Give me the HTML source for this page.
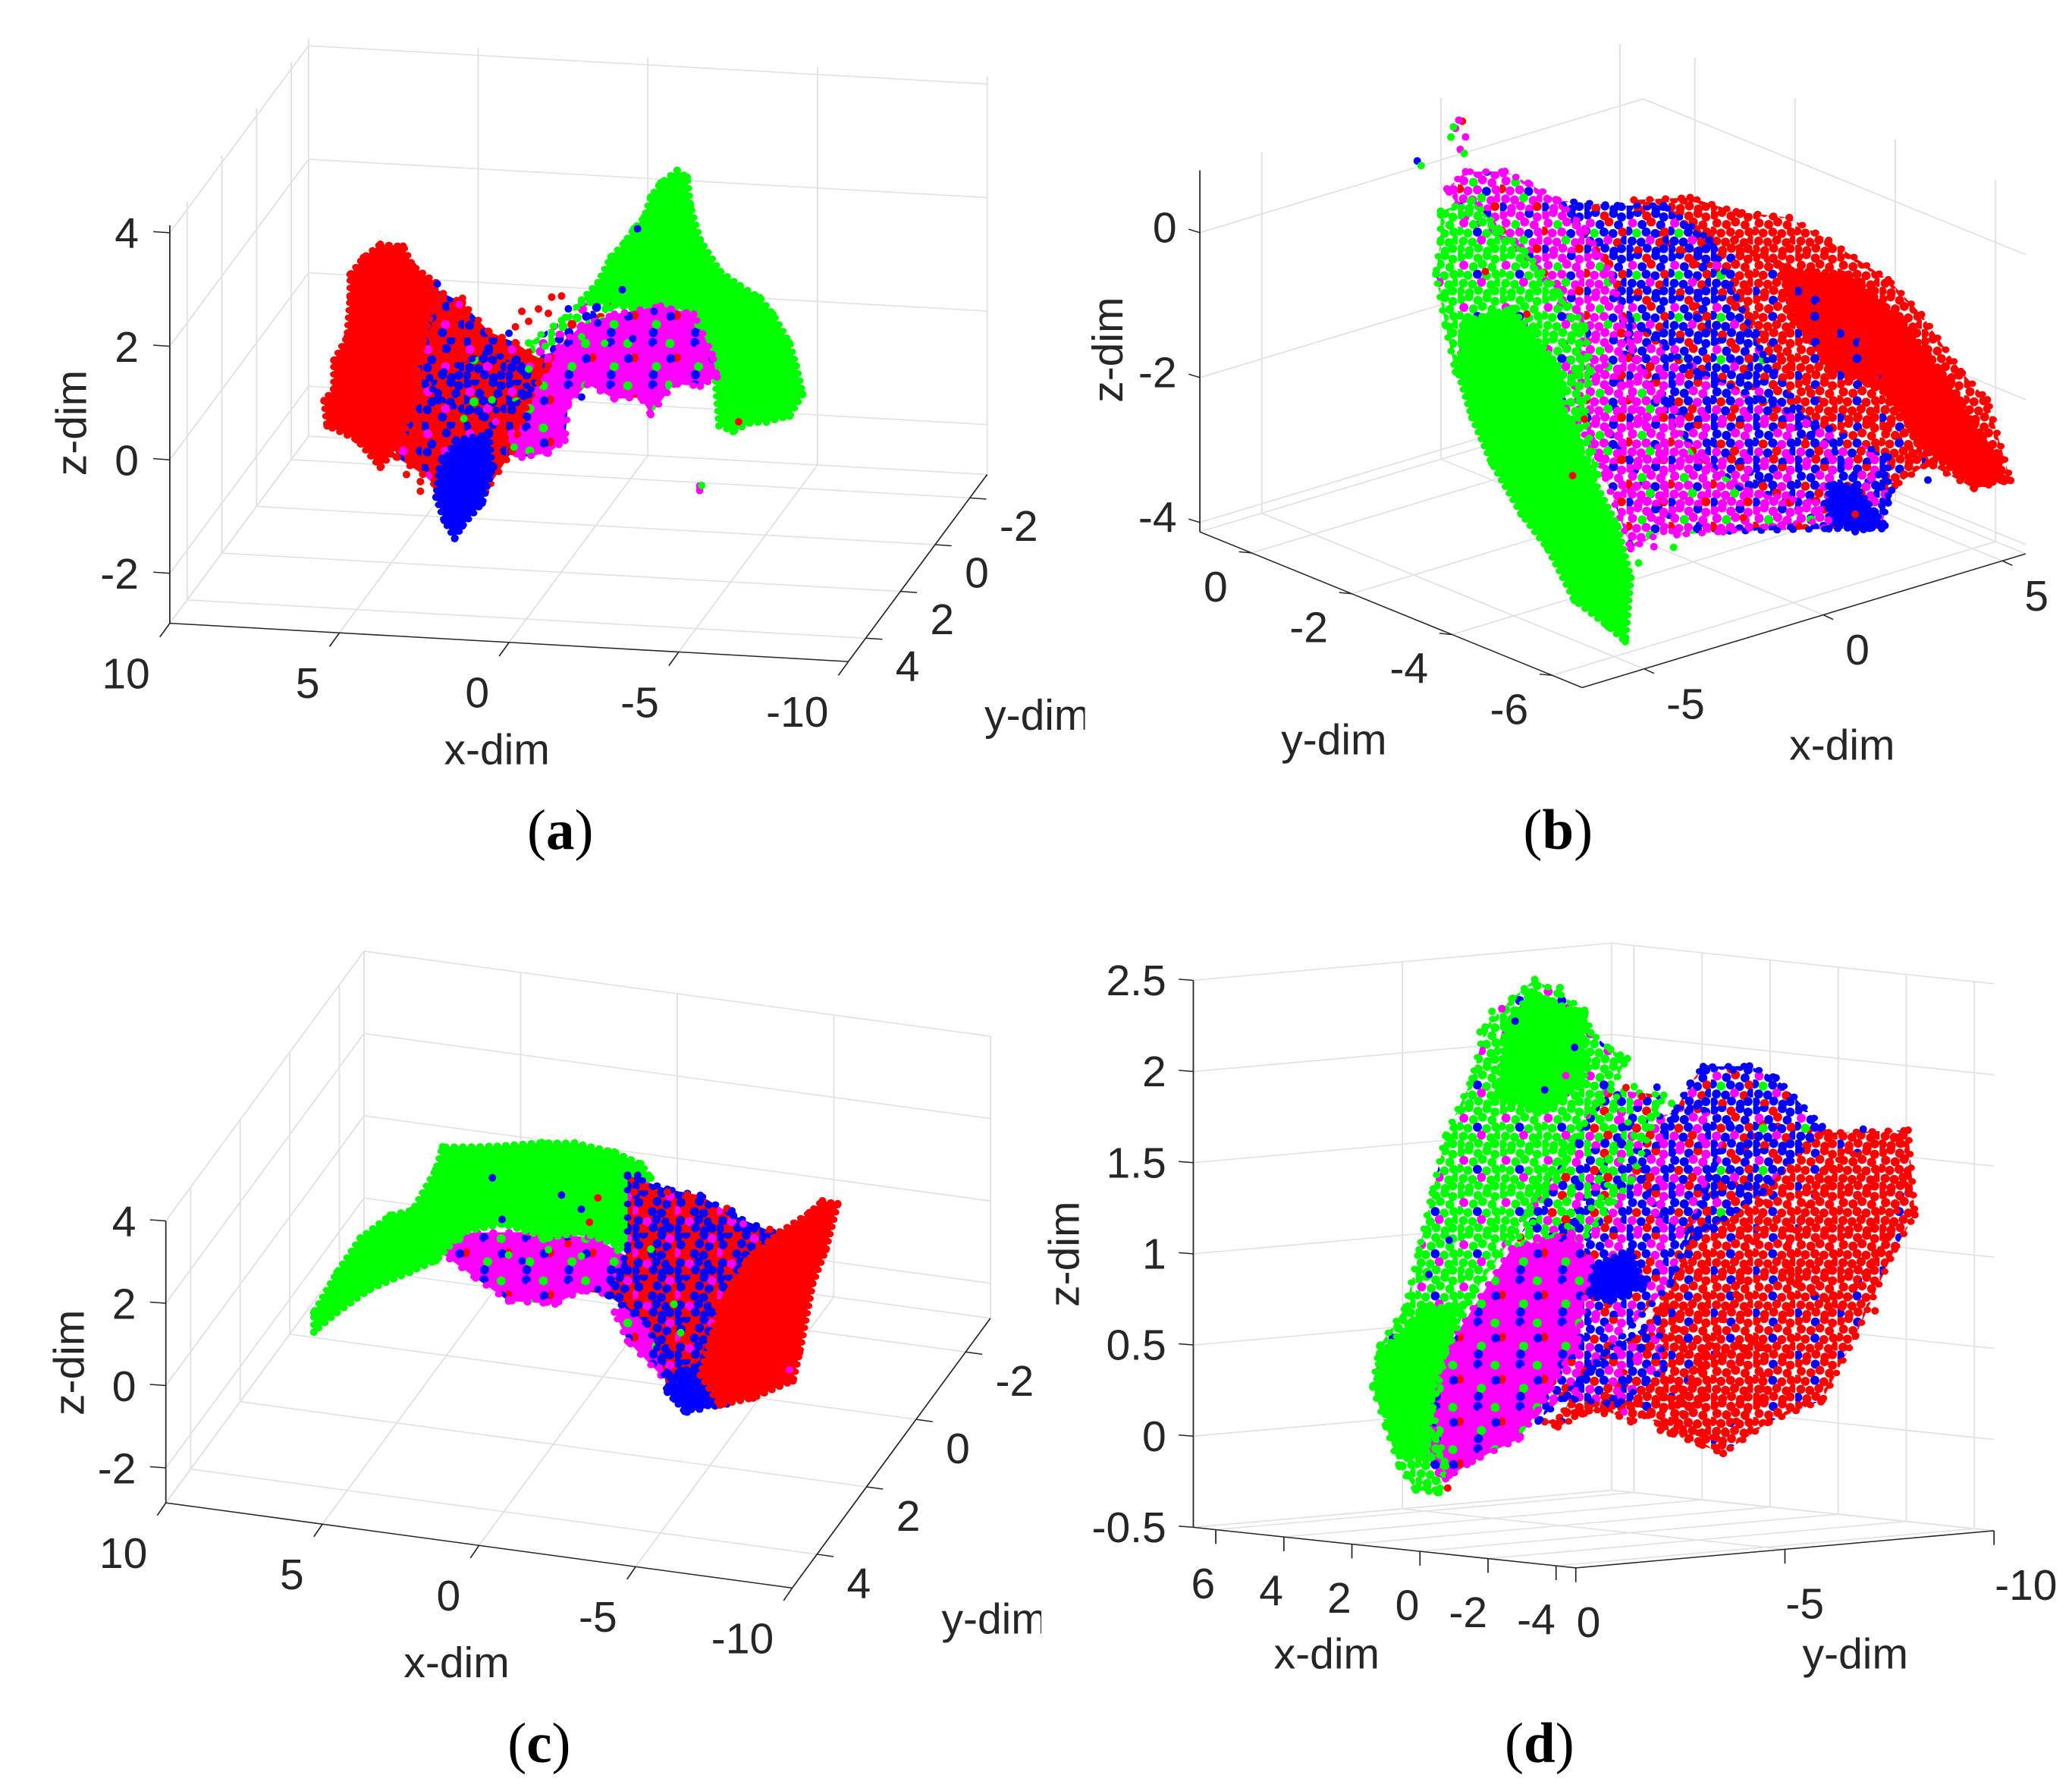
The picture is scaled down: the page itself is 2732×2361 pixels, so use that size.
<!DOCTYPE html>
<html lang="en">
<head>
<meta charset="utf-8">
<title>3D scatter views (a)-(d)</title>
<style>
html,body{margin:0;padding:0;background:#fff;}
svg{display:block;}
text{font-family:"Liberation Sans",sans-serif;fill:#262626;}
text.caption{font-family:"Liberation Serif",serif;fill:#000;}
</style>
</head>
<body>
<svg id="figure" width="2732" height="2361" viewBox="0 0 2732 2361">
<defs id="defs">
<clipPath id="clip-a"><rect x="0" y="0" width="1642" height="1600"></rect></clipPath>
<clipPath id="clip-c"><rect x="0" y="0" width="1576" height="1600"></rect></clipPath>
</defs>
<rect x="0" y="0" width="2732" height="2361" fill="#ffffff"></rect>
</svg>
<script>
// ---------- Values: [x, z] at each panel's reading plane y ----------
const panelAPlaneY = 0;
const panelAGreenRegion = [[-2.40,3.46],[-1.91,3.22],[-1.62,2.96],[-1.43,2.60],[-1.13,2.39],[-.84,2.13],[-.45,1.87],[-.06,1.40],[.42,1.08],[-1.13,.98],[-2.69,1.04],[-3.47,.25],[-3.63,-1.00],[-4.05,-1.09],[-4.54,-.92],[-5.03,-.89],[-5.71,-.76],[-6.10,-.36],[-5.91,.13],[-5.71,.53],[-5.22,1.02],[-4.83,1.30],[-4.25,1.49],[-3.67,1.72],[-3.08,2.25],[-2.79,2.84],[-2.69,3.35]];
const panelAMixRegion = [[1.98,.27],[1.01,.70],[.42,1.03],[-.55,1.06],[.03,.59],[1.01,.10],[1.59,-.22]];
const panelAMagentaRegion = [[1.40,.04],[.42,.63],[-.55,.86],[-1.91,1.05],[-2.89,.94],[-3.43,.25],[-3.57,-.14],[-3.08,-.32],[-2.30,-.31],[-1.62,-.87],[-1.33,-.58],[-.55,-.63],[.23,-.40],[.81,-.75],[.91,-1.41],[1.40,-1.65],[2.18,-1.75],[2.76,-1.57],[2.37,-.96],[1.79,-.53]];
const panelARedBlueRegion = [[4.90,1.17],[3.93,.91],[3.15,.43],[2.37,.26],[1.40,-.11],[1.98,-.74],[2.47,-1.66],[3.25,-2.39],[4.71,-2.34],[5.10,-2.15],[5.88,-1.87],[6.07,-.88],[5.49,.15]];
const panelABlueBand = [[4.90,-.44],[3.15,.08],[2.18,-.14],[1.98,-.64],[3.35,-1.08],[4.71,-.83]];
const panelABlueTip = [[4.12,-1.51],[3.15,-1.38],[3.05,-1.98],[3.35,-2.60],[3.93,-3.02],[4.16,-3.25],[4.47,-2.94],[4.71,-2.54],[4.61,-2.04]];
const panelARedRegion = [[6.35,1.86],[5.68,1.85],[5.39,1.51],[4.71,1.24],[4.81,.78],[5.10,.16],[5.39,-.65],[5.68,-1.57],[6.35,-2.07],[7.04,-1.61],[7.92,-1.39],[8.01,-.95],[7.72,-.73],[7.72,-.23],[7.33,.19],[7.24,.90],[7.24,1.30],[6.85,1.61]];
const panelABluePoints = [[4.67,1.22],[2.56,.42],[.81,.91],[-.06,.69],[-1.23,2.39],[-.78,1.30],[-1.72,.95],[-1.09,.45],[.42,-.63]];
const panelARedPoints = [[3.93,.99],[4.22,.85],[1.30,1.10],[1.01,1.13],[1.69,.88],[2.18,.82],[1.98,.65],[2.37,.54],[1.40,.81],[5.17,-2.45],[5.17,-2.28],[5.58,-2.17],[-4.21,-.91]];
const panelAMagentaPoints = [[-3.06,-2.08],[-3.06,-2.16],[4.03,.88],[2.95,-1.15],[2.47,-1.46],[1.01,-1.05]];
const panelAGreenPoints = [[-3.12,-2.07],[.42,.43],[-.26,.34],[-2.15,-.32],[2.41,-1.58],[3.89,-1.13],[3.06,-.77],[1.98,-.19],[1.49,.23]];

const panelBPlaneY = -2;
const panelBRedRegion = [[1.15,.13],[2.72,-.07],[4.01,-.46],[5.49,-.76],[6.59,-1.24],[8.25,-2.03],[9.18,-2.65],[10.28,-3.60],[11.02,-4.10],[11.67,-5.31],[10.65,-5.27],[9.36,-4.73],[8.25,-4.09],[6.59,-3.60],[5.49,-2.81],[4.38,-2.01],[3.46,-1.16],[1.98,-.55]];
const panelBRedCore = [[5.30,-1.44],[7.15,-1.79],[8.62,-2.64],[9.73,-3.52],[10.84,-4.55],[11.58,-5.29],[10.65,-5.23],[9.36,-4.57],[8.25,-3.61],[6.59,-2.97],[5.67,-2.20]];
const panelBRedBlueBand = [[2.90,-.53],[6.59,-1.87],[8.44,-3.72],[9.36,-4.73],[8.44,-4.90],[6.59,-4.23],[4.75,-3.17],[2.90,-1.71]];
const panelBBlueRegion = [[-.97,.44],[.69,.12],[1.98,-.07],[3.27,-.74],[4.01,-1.64],[4.75,-2.54],[6.04,-3.68],[7.33,-4.58],[8.25,-4.95],[8.07,-5.44],[6.59,-5.22],[5.49,-4.70],[3.83,-3.82],[2.35,-2.97],[1.06,-1.99],[.69,-1.14],[-.23,-.14]];
const panelBLowerMix = [[1.06,-1.51],[2.90,-2.50],[4.75,-3.17],[6.59,-3.84],[8.25,-4.48],[8.25,-5.11],[6.59,-5.22],[3.64,-4.82],[1.98,-4.33],[.51,-3.01]];
const panelBBlueTip = [[6.59,-4.63],[7.33,-4.74],[8.16,-5.41],[7.33,-5.37],[6.59,-5.10]];
const panelBMagentaRegion = [[-4.07,1.06],[-3.55,1.22],[-2.45,1.06],[-1.80,.80],[-.97,.44],[-.23,-.06],[.51,-.80],[1.06,-1.83],[1.80,-2.73],[2.90,-3.68],[4.38,-4.38],[6.23,-4.81],[6.59,-5.10],[5.30,-4.97],[3.64,-4.82],[2.35,-4.67],[1.80,-4.39],[1.06,-3.88],[.14,-3.27],[-.42,-2.71],[-.23,-1.64],[-1.52,-.42],[-2.63,.22],[-3.55,.59]];
const panelBGreenMagentaBand = [[-.79,-1.56],[.69,-2.17],[1.98,-3.55],[1.98,-4.57],[1.06,-4.67],[.32,-3.53],[-.42,-2.40]];
const panelBGreenRegion = [[-4.25,.78],[-3.37,.80],[-2.63,.30],[-1.89,-.13],[-.97,-.82],[-.23,-1.40],[-.05,-2.06],[-.23,-2.66],[.14,-3.51],[-.79,-3.13],[-2.63,-2.07],[-3.83,-1.50],[-4.11,-.82],[-4.38,-.07],[-4.25,.38]];
const panelBGreenCore = [[-3.55,-.83],[-2.26,-.86],[-.97,-1.84],[-.79,-2.50],[-.05,-3.48],[.69,-4.30],[1.06,-5.07],[.91,-5.93],[.41,-5.64],[-.51,-5.15],[-1.25,-4.33],[-1.99,-3.74],[-2.82,-2.91],[-3.37,-2.20],[-3.77,-1.50]];
const panelBBluePoints = [[-4.90,1.57],[9.36,-4.96],[8.35,-4.95],[7.98,-4.68]];
const panelBRedPoints = [[-3.64,1.93],[-1.84,-1.00],[-.56,-3.42],[-.23,-2.69],[-3.00,-.24],[7.88,-4.23],[8.81,-4.56],[5.76,-5.06],[7.33,-5.13],[4.20,-4.71]];
const panelBMagentaPoints = [[-3.74,1.96],[-3.83,1.86],[-3.55,1.70],[-3.70,1.55],[1.71,-4.74]];
const panelBGreenPoints = [[-3.89,1.89],[-3.96,1.76],[-3.59,1.48],[-4.79,1.49],[2.26,-4.83],[1.28,-4.90]];

const panelCPlaneY = 0;
const panelCMagentaRegion = [[5.33,-.30],[4.48,.19],[2.37,.42],[.26,.50],[-1.00,.07],[-.37,-.83],[.69,-.83],[1.53,-1.24],[3.01,-1.32],[4.06,-.87]];
const panelCMagentaLobe = [[-.37,-1.24],[-1.00,-.76],[-2.27,-1.47],[-2.48,-2.84],[-1.85,-2.62],[-.79,-1.90]];
const panelCGreenRegion = [[9.23,-2.72],[9.23,-2.24],[8.49,-1.19],[7.75,-.28],[6.80,.37],[6.07,.58],[5.33,1.64],[5.12,2.21],[3.64,2.37],[1.95,2.64],[.90,2.74],[-.37,2.65],[-1.21,2.45],[-1.53,2.14],[-1.00,1.88],[-.79,1.02],[-.79,.32],[.69,.59],[1.74,.34],[3.22,.53],[4.48,.19],[5.33,-.58],[6.17,-.95],[7.44,-1.50],[8.49,-2.17]];
const panelCMixRegion = [[-.79,2.13],[-2.06,1.92],[-3.11,1.88],[-4.17,1.50],[-5.43,1.22],[-5.64,.55],[-3.96,-3.10],[-2.69,-3.43],[-2.06,-3.01],[-1.85,-2.21],[-1.42,-1.42],[-.16,-.85],[-.79,.32]];
const panelCBlueRegion = [[-2.16,-2.59],[-3.11,-2.22],[-3.74,-2.71],[-3.64,-3.13],[-2.61,-3.42],[-2.06,-3.01]];
const panelCRedRegion = [[-7.01,2.15],[-7.50,2.13],[-7.12,.98],[-6.70,.11],[-6.28,-1.61],[-6.07,-2.32],[-4.80,-2.87],[-3.74,-3.15],[-3.11,-2.49],[-3.74,-.76],[-4.59,.44],[-5.64,1.25],[-6.59,1.82]];
const panelCRedPoints = [[-3.96,1.65],[-5.33,1.28],[-2.69,1.85],[-2.06,1.85],[-1.00,1.74],[.43,.86],[.16,1.48],[1.11,.27]];
const panelCBluePoints = [[3.53,1.62],[1.32,1.43],[3.22,.64],[.69,1.15],[-1.11,2.16],[-4.12,1.61],[-4.48,1.24],[2.58,-.30],[.16,-.74]];
const panelCGreenPoints = [[3.01,-.20],[1.74,.06],[.69,.01],[-.47,.27],[-2.27,-.85],[-2.48,-1.52],[-1.53,.41]];
const panelCMagentaPoints = [[3.01,-1.29],[1.78,-1.22],[-5.96,-2.06],[-4.48,1.33]];

const panelDPlaneY = -5;
const panelDRedRegion = [[2.48,.06],[.34,.23],[-1.02,.73],[-1.99,1.28],[-3.93,1.82],[-5.87,1.81],[-8.20,1.87],[-8.40,1.41],[-7.81,1.21],[-6.65,.71],[-5.68,.34],[-4.12,.19],[-2.76,-.01],[-1.21,.07],[-.24,.23],[1.31,.13],[2.09,.04]];
const panelDRedLowerLeft = [[2.09,.06],[1.31,.37],[-.05,.55],[-1.21,.76],[-2.18,.28],[-1.02,.10],[.34,.22]];
const panelDRedBlueBand = [[.73,.16],[-1.21,.89],[-2.77,1.48],[-4.12,1.45],[-3.15,.87],[-1.60,.24],[-.05,.11]];
const panelDRedCoreUpper = [[-4.51,1.11],[-5.87,1.64],[-8.01,1.84],[-8.20,1.62],[-7.62,1.27],[-6.26,.86],[-4.90,.96]];
const panelDRedCoreLower = [[-1.21,.26],[-2.57,.54],[-3.93,.63],[-3.93,.32],[-2.57,.07],[-1.41,.11]];
const panelDBlueRegion = [[-.43,1.50],[-1.79,2.00],[-2.18,2.10],[-3.54,2.13],[-4.32,2.08],[-5.68,1.84],[-3.94,1.45],[-1.99,1.16],[-.82,1.26]];
const panelDMixRegion = [[3.84,.73],[1.90,1.11],[.73,1.51],[-.05,1.74],[-1.99,1.88],[-2.96,1.80],[-1.21,.89],[.92,.41],[2.67,.06],[3.45,.11]];
const panelDLowerMix = [[-.83,.69],[.73,.47],[1.90,.20],[.34,.20],[-1.02,.42]];
const panelDGreenMixBand = [[3.45,.99],[1.90,1.49],[.54,1.92],[-1.02,1.92],[-.05,1.43],[1.90,.95],[3.06,.74]];
const panelDGreenMixUpper = [[.54,1.95],[-.15,1.68],[.92,1.29],[2.28,1.07],[3.06,1.18],[1.90,1.58]];
const panelDBlueCore = [[1.12,.94],[-.05,1.05],[-.43,.87],[.54,.76],[1.31,.78]];
const panelDMagentaRegion = [[6.17,.15],[5.20,.45],[3.45,.99],[1.70,1.11],[1.12,.97],[1.51,.52],[2.67,.12],[3.25,-.05],[4.61,-.20],[5.39,-.31],[5.97,-.19]];
const panelDGreenRegion = [[2.77,2.48],[2.09,2.42],[1.31,2.34],[1.12,2.22],[.54,2.14],[.05,2.10],[.54,1.92],[1.31,1.72],[1.90,1.49],[2.67,1.31],[3.45,1.05],[4.61,.71],[5.39,.38],[5.78,.06],[5.39,-.24],[5.58,-.39],[6.26,-.39],[6.75,-.27],[7.14,-.06],[7.53,.15],[7.33,.38],[6.56,.61],[6.17,.93],[5.78,1.25],[5.39,1.57],[4.61,1.90],[4.23,2.19],[3.45,2.36]];
const panelDGreenCoreUpper = [[2.87,2.41],[1.31,2.31],[1.31,1.94],[2.67,1.75],[3.84,1.82],[3.64,2.20]];
const panelDGreenCoreLower = [[7.33,.34],[5.97,.62],[5.00,.64],[5.78,.16],[5.97,-.22],[6.75,-.21],[7.43,.15]];
const panelDRedPoints = [[-2.77,-.01],[-2.05,.03],[-.92,.08],[-5.64,.33],[-7.23,.86],[-8.34,1.42],[5.33,-.36],[.73,.14],[.09,1.94],[-.38,1.90]];
const panelDBluePoints = [[-2.28,2.09],[-3.06,2.10],[1.60,2.13],[-6.88,1.85],[-.82,1.96],[3.35,2.24],[2.48,1.88],[5.29,1.00],[5.88,.80]];
const panelDGreenPoints = [[-.15,1.95],[-1.25,1.88],[4.03,2.28],[2.03,2.45],[4.38,2.16],[5.64,-.39]];
const panelDMagentaPoints = [[3.74,2.30],[1.86,1.97],[.24,1.76],[5.29,-.29],[3.20,-.04],[.15,.16]];

// ---------- Tick values ----------
const panelAXTicks = [10,5,0,-5,-10];
const panelAYTicks = [-2,0,2,4];
const panelAZTicks = [4,2,0,-2];
const panelBXTicks = [-5,0,5];
const panelBYTicks = [0,-2,-4,-6];
const panelBZTicks = [0,-2,-4];
const panelCXTicks = [10,5,0,-5,-10];
const panelCYTicks = [-2,0,2,4];
const panelCZTicks = [4,2,0,-2];
const panelDXTicks = [6,4,2,0,-2,-4];
const panelDYTicks = [0,-5,-10];
const panelDZTicks = [2.5,2,1.5,1,0.5,0,-0.5];

// ---------- Styling ----------
const RED = '#ff0000', GREEN = '#00ff00', BLUE = '#0000ff', MAGENTA = '#ff00ff';
const GRID = '#e2e2e2', AXIS = '#262626';
const SX = 0.8712, SY = 0.7535;
const MARKER_PX = 5;
const FONT_PX = 57;
const CAPTION_PX = 75;
const tileDots = [[6,8],[22,3],[40,10],[58,5],[74,12],[12,24],[31,27],[49,22],[68,28],[3,40],[20,44],[39,42],[57,45],[76,42],[11,60],[29,62],[47,58],[66,63],[81,58],[5,76],[23,79],[41,74],[59,80],[74,75]];
const paletteByLetter = {R:RED, G:GREEN, B:BLUE, M:MAGENTA};
const textures = [
  {id:'tex-red', base:null, dots:'RRRRRRRRRRRRRRRRRRRRRRRR'},
  {id:'tex-red-blue', base:null, dots:'RRBRRRRRRRRBRRRRRRRBRRRR'},
  {id:'tex-rb-dense', base:RED, dots:'BRRBRMRBRRBRRRBRMRBRRBRR'},
  {id:'tex-rb-blue', base:RED, dots:'BBRBMBRBBMRBBRBMBBRBRBBB'},
  {id:'tex-blue', base:null, dots:'BBRBBMBRBBGBBRBBMRBBRBBB'},
  {id:'tex-mag', base:null, dots:'MMMBMMGMMRMMBMMMGMMBMMMR'},
  {id:'tex-mag-dense', base:MAGENTA, dots:'MMBMGMMMMRMMMBMMGMMMMBMM'},
  {id:'tex-green', base:null, dots:'GGGGGMGGGGGBGGGGMGGGGGGG'},
  {id:'tex-mix', base:null, dots:'GBRGMBGGMBRGGBMGRBGGMBGB'},
  {id:'tex-bm', base:null, dots:'BMBRMBBMMBRBMBMBRMBBMRBM'}
];

// ---------- Axis functions: data value to panel coordinate ----------
const projectA = (x,y,z) => [901.75-51.35*x-26.25*y, 633.4-3.35*x+40.9*y-99.3*z];
const projectB = (x,y,z) => [690.9+54.2*x-75.85*y, 316.6-18.9*x-35.7*y-126.75*z];
const projectC = (x,y,z) => [912.5-47.4*x-37.5*y, 637.5-7.45*x+59*y-72*z];
const projectD = (x,y,z) => [581.1-51.5*x-63.3*y, 988.6-6.31*x+6.5*y-319*z];

const panels = [
  {key:'a', tx:0, ty:0, project:projectA, planeY:panelAPlaneY,
   xTicks:panelAXTicks, yTicks:panelAYTicks, zTicks:panelAZTicks,
   xlim:[-10,10], ylim:[-3,5], zmin:-2.88, ztop:4.13, wallY:-3, wallX:10, axisY:5, axisX:-10, zAxisX:10, zAxisY:5,
   xTick:[-15,24], yTick:[25,2], zTick:[-25,-2],
   xLabel:[-30,114,'end'], yLabel:[45,75,'start'], zLabel:[-47,27,'end'],
   xTitle:[752,1337], yTitle:[1490,1277], zTitle:[130,740], yClip:'url(#clip-a)', caption:[848,1485],
   layers:[
    ['green-region',panelAGreenRegion,GREEN,null],
    ['mix-region',panelAMixRegion,GREEN,'tex-mix'],
    ['magenta-region',panelAMagentaRegion,MAGENTA,'tex-mag-dense'],
    ['red-blue-region',panelARedBlueRegion,RED,'tex-rb-dense'],
    ['blue-band',panelABlueBand,BLUE,'tex-blue'],
    ['blue-tip',panelABlueTip,BLUE,null],
    ['red-region',panelARedRegion,RED,null]],
   points:[['blue',panelABluePoints,BLUE],['red',panelARedPoints,RED],['magenta',panelAMagentaPoints,MAGENTA],['green',panelAGreenPoints,GREEN]]},
  {key:'b', tx:1366, ty:0, project:projectB, planeY:panelBPlaneY,
   xTicks:panelBXTicks, yTicks:panelBYTicks, zTicks:panelBZTicks,
   xlim:[-6.73,5.65], ylim:[-6.6,1.03], zmin:-4.13, ztop:.86, wallY:1.03, wallX:5.65, axisY:-6.6, axisX:-6.73, zAxisX:-6.73, zAxisY:1.03,
   xTick:[15,8], yTick:[-19,-2], zTick:[-17,-6],
   xLabel:[33.5,87,'start'], yLabel:[-36,85,'end'], zLabel:[-35,17,'end'],
   xTitle:[1220,1329], yTitle:[371,1320], zTitle:[131,612], yClip:null, caption:[790,1485],
   layers:[
    ['red-region',panelBRedRegion,RED,'tex-red'],
    ['red-core',panelBRedCore,RED,null],
    ['red-blue-band',panelBRedBlueBand,RED,'tex-red-blue'],
    ['blue-region',panelBBlueRegion,BLUE,'tex-blue'],
    ['lower-mix',panelBLowerMix,BLUE,'tex-bm'],
    ['blue-tip',panelBBlueTip,BLUE,null],
    ['magenta-region',panelBMagentaRegion,MAGENTA,'tex-mag'],
    ['green-magenta-band',panelBGreenMagentaBand,MAGENTA,'tex-mag'],
    ['green-region',panelBGreenRegion,GREEN,'tex-green'],
    ['green-core',panelBGreenCore,GREEN,null]],
   points:[['blue',panelBBluePoints,BLUE],['red',panelBRedPoints,RED],['magenta',panelBMagentaPoints,MAGENTA],['green',panelBGreenPoints,GREEN]]},
  {key:'c', tx:0, ty:1180, project:projectC, planeY:panelCPlaneY,
   xTicks:panelCXTicks, yTicks:panelCYTicks, zTicks:panelCZTicks,
   xlim:[-10,10], ylim:[-3,5], zmin:-2.85, ztop:4, wallY:-3, wallX:10, axisY:5, axisX:-10, zAxisX:10, zAxisY:5,
   xTick:[-13,22], yTick:[25,4], zTick:[-24,-2],
   xLabel:[-28,114,'end'], yLabel:[45,77,'start'], zLabel:[-45,27,'end'],
   xTitle:[691,1368], yTitle:[1425,1292], zTitle:[127,818], yClip:'url(#clip-c)', caption:[816,1517],
   layers:[
    ['magenta-region',panelCMagentaRegion,MAGENTA,'tex-mag-dense'],
    ['magenta-lobe',panelCMagentaLobe,MAGENTA,'tex-mag-dense'],
    ['green-region',panelCGreenRegion,GREEN,null],
    ['mix-region',panelCMixRegion,BLUE,'tex-rb-blue'],
    ['blue-region',panelCBlueRegion,BLUE,null],
    ['red-region',panelCRedRegion,RED,null]],
   points:[['red',panelCRedPoints,RED],['blue',panelCBluePoints,BLUE],['green',panelCGreenPoints,GREEN],['magenta',panelCMagentaPoints,MAGENTA]]},
  {key:'d', tx:1366, ty:1180, project:projectD, planeY:panelDPlaneY,
   xTicks:panelDXTicks, yTicks:panelDYTicks, zTicks:panelDZTicks,
   xlim:[-4.58,6.66], ylim:[-10,0], zmin:-.5, ztop:2.5, wallY:-10, wallX:6.66, axisY:0, axisX:-4.58, zAxisX:6.66, zAxisY:0,
   xTick:[0,25], yTick:[0,25], zTick:[-22,-2],
   xLabel:[-1,120,'end'], yLabel:[1,121,'start'], zLabel:[-41,26,'end'],
   xTitle:[440,1353], yTitle:[1160,1353], zTitle:[65,628], yClip:null, caption:[762,1517],
   layers:[
    ['red-region',panelDRedRegion,RED,'tex-red-blue'],
    ['red-lower-left',panelDRedLowerLeft,RED,'tex-red-blue'],
    ['red-blue-band',panelDRedBlueBand,RED,'tex-red-blue'],
    ['red-core-upper',panelDRedCoreUpper,RED,'tex-red'],
    ['red-core-lower',panelDRedCoreLower,RED,'tex-red'],
    ['blue-region',panelDBlueRegion,BLUE,'tex-blue'],
    ['mix-region',panelDMixRegion,BLUE,'tex-bm'],
    ['lower-mix',panelDLowerMix,BLUE,'tex-bm'],
    ['green-mix-band',panelDGreenMixBand,GREEN,'tex-mix'],
    ['green-mix-upper',panelDGreenMixUpper,GREEN,'tex-mix'],
    ['blue-core',panelDBlueCore,BLUE,null],
    ['magenta-region',panelDMagentaRegion,MAGENTA,'tex-mag-dense'],
    ['green-region',panelDGreenRegion,GREEN,'tex-green'],
    ['green-core-upper',panelDGreenCoreUpper,GREEN,null],
    ['green-core-lower',panelDGreenCoreLower,GREEN,null]],
   points:[['red',panelDRedPoints,RED],['blue',panelDBluePoints,BLUE],['green',panelDGreenPoints,GREEN],['magenta',panelDMagentaPoints,MAGENTA]]}
];

const figure = document.getElementById('figure');
const defs = document.getElementById('defs');
const NS = figure.namespaceURI;

function make(tag, parent, attrs){
  const el = document.createElementNS(NS, tag);
  for (const k in attrs) el.setAttribute(k, attrs[k]);
  parent.appendChild(el);
  return el;
}

textures.forEach(t => {
  const pat = make('pattern', defs, {id:t.id, patternUnits:'userSpaceOnUse', width:84, height:84, patternTransform:'scale(0.76,'+(0.76*SX/SY).toFixed(4)+')'});
  if (t.base) make('rect', pat, {x:0, y:0, width:84, height:84, fill:t.base});
  tileDots.forEach((d,i) => make('circle', pat, {cx:d[0], cy:d[1], r:9, fill:paletteByLetter[t.dots[i]]}));
});

function drawLine(parent, a, b, stroke, width, name){
  const el = make('line', parent, {x1:a[0], y1:a[1], x2:b[0], y2:b[1], stroke:stroke, 'stroke-width':width});
  
  
  return el;
}

// text keeps real pixel proportions inside the panel's stretched coordinate system
function drawLabel(parent, pos, str, anchor, name, rotate){
  const turn = rotate ? ' rotate(' + rotate + ')' : '';
  const el = make('text', parent, {transform:'translate('+pos[0]+','+pos[1]+') scale('+(1/SX)+','+(1/SY)+')'+turn, 'font-size':FONT_PX, 'text-anchor':anchor});
  el.textContent = str;
  
  
  return el;
}

function drawMarker(parent, s, fill){
  const dot = make('ellipse', parent, {cx:s[0].toFixed(1), cy:s[1].toFixed(1), rx:(MARKER_PX/SX).toFixed(2), ry:(MARKER_PX/SY).toFixed(2), fill:fill});
  
  
}

panels.forEach(p => {
  const g = make('g', figure, {transform:'translate('+p.tx+','+p.ty+') scale('+SX+','+SY+')'});
  
  
  const P = p.project;

  // grid: two back walls and floor
  const grid = make('g', g, {});
  
  
  p.xTicks.forEach(t => {
    drawLine(grid, P(t,p.wallY,p.zmin), P(t,p.wallY,p.ztop), GRID, 2.2, 'grid-wall-x');
    drawLine(grid, P(t,p.ylim[0],p.zmin), P(t,p.ylim[1],p.zmin), GRID, 2.2, 'grid-floor-x');
  });
  p.yTicks.forEach(t => {
    drawLine(grid, P(p.wallX,t,p.zmin), P(p.wallX,t,p.ztop), GRID, 2.2, 'grid-wall-y');
    drawLine(grid, P(p.xlim[0],t,p.zmin), P(p.xlim[1],t,p.zmin), GRID, 2.2, 'grid-floor-y');
  });
  p.zTicks.forEach(t => {
    drawLine(grid, P(p.xlim[0],p.wallY,t), P(p.xlim[1],p.wallY,t), GRID, 2.2, 'grid-wall-z');
    drawLine(grid, P(p.wallX,p.ylim[0],t), P(p.wallX,p.ylim[1],t), GRID, 2.2, 'grid-side-z');
  });
  drawLine(grid, P(p.xlim[0],p.wallY,p.zmin), P(p.xlim[1],p.wallY,p.zmin), GRID, 2.2, 'floor-edge-x');
  drawLine(grid, P(p.wallX,p.ylim[0],p.zmin), P(p.wallX,p.ylim[1],p.zmin), GRID, 2.2, 'floor-edge-y');

  // axes and ticks
  const axes = make('g', g, {});
  
  
  drawLine(axes, P(p.xlim[0],p.axisY,p.zmin), P(p.xlim[1],p.axisY,p.zmin), AXIS, 2, 'x-axis-line');
  drawLine(axes, P(p.axisX,p.ylim[0],p.zmin), P(p.axisX,p.ylim[1],p.zmin), AXIS, 2, 'y-axis-line');
  drawLine(axes, P(p.zAxisX,p.zAxisY,p.zmin), P(p.zAxisX,p.zAxisY,p.ztop), AXIS, 2, 'z-axis-line');
  p.xTicks.forEach(t => {
    const a = P(t,p.axisY,p.zmin);
    drawLine(axes, a, [a[0]+p.xTick[0], a[1]+p.xTick[1]], AXIS, 2, 'x-tick');
    drawLabel(axes, [a[0]+p.xLabel[0], a[1]+p.xLabel[1]], String(t), p.xLabel[2], 'x-tick-label');
  });
  p.yTicks.forEach(t => {
    const a = P(p.axisX,t,p.zmin);
    drawLine(axes, a, [a[0]+p.yTick[0], a[1]+p.yTick[1]], AXIS, 2, 'y-tick');
    drawLabel(axes, [a[0]+p.yLabel[0], a[1]+p.yLabel[1]], String(t), p.yLabel[2], 'y-tick-label');
  });
  p.zTicks.forEach(t => {
    const a = P(p.zAxisX,p.zAxisY,t);
    drawLine(axes, a, [a[0]+p.zTick[0], a[1]+p.zTick[1]], AXIS, 2, 'z-tick');
    drawLabel(axes, [a[0]+p.zLabel[0], a[1]+p.zLabel[1]], String(t), p.zLabel[2], 'z-tick-label');
  });

  // titles
  drawLabel(axes, p.xTitle, 'x-dim', 'middle', 'x-axis-title');
  const yWrap = make('g', axes, {});
  
  
  if (p.yClip) yWrap.setAttribute('clip-path', p.yClip);
  drawLabel(yWrap, p.yTitle, 'y-dim', 'start', 'y-axis-title');
  drawLabel(axes, p.zTitle, 'z-dim', 'middle', 'z-axis-title', -90);

  // dense regions: filled outline through the axis function, dotted edge, a marker on each vertex
  p.layers.forEach(layer => {
    const cluster = make('g', g, {});
    
    
    const screen = layer[1].map(v => P(v[0], p.planeY, v[1]));
    const poly = make('polygon', cluster, {points:screen.map(s => s[0].toFixed(1)+','+s[1].toFixed(1)).join(' '), fill:layer[3] ? 'url(#'+layer[3]+')' : layer[2], stroke:layer[2], 'stroke-width':11.5, 'stroke-linecap':'round', 'stroke-dasharray':layer[3] ? '0 24' : '0 13'});
    
    
    screen.forEach(s => drawMarker(cluster, s, layer[2]));
  });

  // individually read points
  p.points.forEach(series => {
    const sg = make('g', g, {});
    
    
    series[1].forEach(v => drawMarker(sg, P(v[0], p.planeY, v[1]), series[2]));
  });

  // caption
  const cap = make('text', g, {transform:'translate('+p.caption[0]+','+p.caption[1]+') scale('+(1/SX)+','+(1/SY)+')', 'font-size':CAPTION_PX, 'text-anchor':'middle', class:'caption'});
  
  
  const open = make('tspan', cap, {});
  open.textContent = '(';
  const letter = make('tspan', cap, {'font-weight':'bold'});
  letter.textContent = p.key;
  const close = make('tspan', cap, {});
  close.textContent = ')';
});
</script>
</body>
</html>
